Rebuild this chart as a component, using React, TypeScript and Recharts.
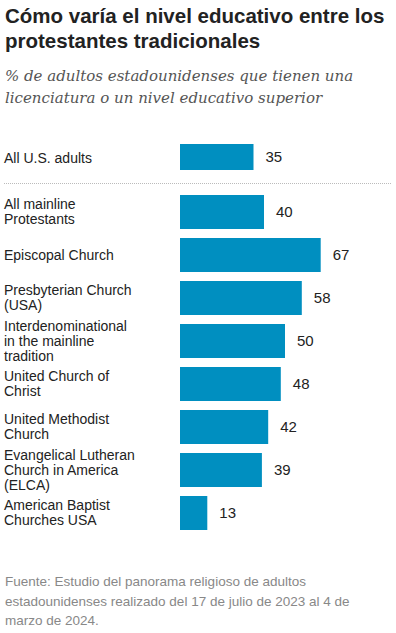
import React from 'react';
import { BarChart, Bar, XAxis, YAxis, LabelList } from 'recharts';

const totalLabels = ['All U.S. adults'];
const totalValues = [35];

const groupLabels = [
  'All mainline\nProtestants',
  'Episcopal Church',
  'Presbyterian Church\n(USA)',
  'Interdenominational\nin the mainline\ntradition',
  'United Church of\nChrist',
  'United Methodist\nChurch',
  'Evangelical Lutheran\nChurch in America\n(ELCA)',
  'American Baptist\nChurches USA',
];
const groupValues = [40, 67, 58, 50, 48, 42, 39, 13];

const sourceLines = [
  'Fuente: Estudio del panorama religioso de adultos',
  'estadounidenses realizado del 17 de julio de 2023 al 4 de',
  'marzo de 2024.',
];

const BAR_COLOR = '#008fc0';
const SANS = '"Liberation Sans", Arial, sans-serif';

const totalData = totalLabels.map((name, i) => ({ name, value: totalValues[i] }));
const groupData = groupLabels.map((name, i) => ({ name, value: groupValues[i] }));

const LabelTick = (props: any) => {
  const { y, payload } = props;
  const lines: string[] = String(payload.value).split('\n');
  const lh = 15;
  const start = y - ((lines.length - 1) * lh) / 2;
  return (
    <text x={4} y={start} textAnchor="start" dominantBaseline="central" fill="#222" fontSize={14} fontFamily={SANS}>
      {lines.map((l, i) => (
        <tspan key={i} x={4} y={start + i * lh}>
          {l}
        </tspan>
      ))}
    </text>
  );
};

const Rows = ({ data, height, barSize }: { data: { name: string; value: number }[]; height: number; barSize: number }) => (
  <BarChart
    width={396}
    height={height}
    data={data}
    layout="vertical"
    margin={{ top: 0, right: 6, bottom: 0, left: 0 }}
  >
    <XAxis type="number" domain={[0, 100]} hide />
    <YAxis type="category" dataKey="name" width={180} axisLine={false} tickLine={false} tick={<LabelTick />} interval={0} />
    <Bar dataKey="value" fill={BAR_COLOR} barSize={barSize} isAnimationActive={false}>
      <LabelList dataKey="value" position="right" offset={12} fill="#222" fontSize={15} fontFamily={SANS} />
    </Bar>
  </BarChart>
);

export default function App() {
  return (
    <div style={{ position: 'absolute', left: 0, top: 0, width: 396, height: 633, background: '#fff', overflow: 'hidden' }}>
      <div
        style={{
          position: 'absolute',
          left: 5,
          top: 3,
          width: 390,
          fontFamily: SANS,
          fontWeight: 700,
          fontSize: 20.5,
          lineHeight: '25px',
          color: '#222',
        }}
      >
        Cómo varía el nivel educativo entre los protestantes tradicionales
      </div>
      <div
        style={{
          position: 'absolute',
          left: 5,
          top: 65,
          width: 390,
          fontFamily: '"DejaVu Serif", "Liberation Serif", serif',
          fontStyle: 'italic',
          fontSize: 15,
          lineHeight: '22px',
          color: '#555',
        }}
      >
        % de adultos estadounidenses que tienen una licenciatura o un nivel educativo superior
      </div>
      <div style={{ position: 'absolute', left: 0, top: 143 }}>
        <Rows data={totalData} height={29} barSize={29} />
      </div>
      <div style={{ position: 'absolute', left: 4, top: 183, width: 387, borderTop: '1px dotted #bbb' }} />
      <div style={{ position: 'absolute', left: 0, top: 190 }}>
        <Rows data={groupData} height={344} barSize={34} />
      </div>
      <div
        style={{
          position: 'absolute',
          left: 5,
          top: 572,
          width: 390,
          fontFamily: SANS,
          fontSize: 13.5,
          lineHeight: '19.5px',
          color: '#888',
          whiteSpace: 'nowrap',
        }}
      >
        {sourceLines.map((l, i) => (
          <div key={i}>{l}</div>
        ))}
      </div>
    </div>
  );
}
